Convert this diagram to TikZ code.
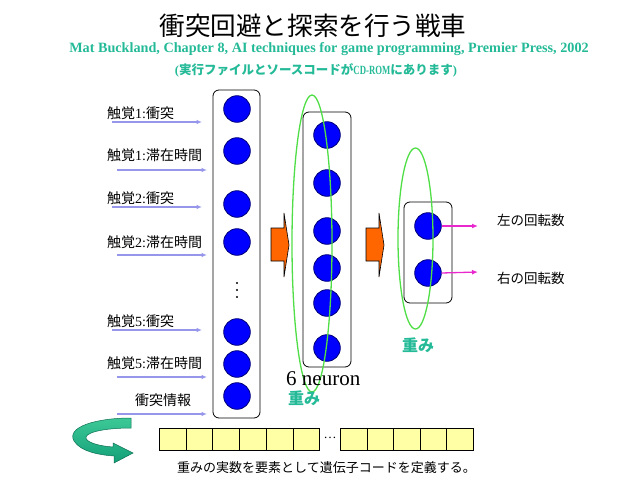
\documentclass[tikz,border=0pt]{standalone}
\usepackage{fontspec}
\setmainfont{Liberation Serif}
\newfontfamily\jp{Noto Sans CJK JP}
\usetikzlibrary{arrows.meta}
\definecolor{teal2}{RGB}{36,186,152}
\definecolor{lav}{RGB}{150,150,235}
\definecolor{mag}{RGB}{232,40,205}
\definecolor{ringgreen}{RGB}{80,222,70}
\definecolor{cellyellow}{RGB}{255,255,165}
\definecolor{orange2}{RGB}{255,102,0}
\definecolor{navy2}{RGB}{0,0,120}
\definecolor{arrowgreen}{RGB}{20,160,120}
\definecolor{arrowgreenlight}{RGB}{60,200,150}
\begin{document}
\begin{tikzpicture}[x=1pt,y=-1pt,
  neuron/.style={circle,draw=navy2,fill=blue,line width=0.8pt,minimum size=26.6pt,inner sep=0pt},
  layerbox/.style={draw=black,line width=0.8pt,rounded corners=6pt,inner sep=0pt},
  inlabel/.style={anchor=west,inner sep=0pt,font=\fontsize{14}{16}\selectfont},
  outlabel/.style={anchor=west,inner sep=0pt,font=\jp\fontsize{13.5}{16}\selectfont},
  inarrow/.style={draw=lav,line width=1.4pt,-{Latex[length=5.5pt,width=4.5pt]}},
  outarrow/.style={draw=mag,line width=1.3pt,-{Latex[length=6pt,width=5pt]}},
  wring/.style={draw=ringgreen,line width=1.3pt},
  cell/.style={draw=black,line width=0.8pt,fill=cellyellow,minimum width=26.7pt,minimum height=22pt,inner sep=0pt,anchor=north west},
  weight/.style={text=teal2,font=\jp\bfseries\fontsize{16}{18}\selectfont,inner sep=0pt,anchor=west},
  blockarrow/.style={fill=orange2,draw=black,line width=0.6pt},
  dotmark/.style={circle,fill=black,inner sep=0pt,minimum size=2.2pt}]

\useasboundingbox (0,0) rectangle (638,479);

% title
\node[inner sep=0pt,font=\jp\fontsize{25.6}{28}\selectfont] (title) at (313,26) {衝突回避と探索を行う戦車};
\node[inner sep=0pt,text=teal2,font=\bfseries\fontsize{14.2}{16}\selectfont] (sub1) at (329,49)
  {Mat Buckland, Chapter 8, AI techniques for game programming, Premier Press, 2002};
\node[inner sep=0pt,text=teal2,font=\bfseries\fontsize{12.5}{15}\selectfont] (sub2) at (316,70)
  {({\jp\bfseries 実行ファイルとソースコードが}\scalebox{0.7}[1]{CD-ROM}{\jp\bfseries にあります})};

% layer boxes
\node[layerbox,minimum width=47pt,minimum height=328pt] (inbox) at (236.5,254) {};
\node[layerbox,minimum width=48pt,minimum height=255pt] (hidbox) at (327,239.5) {};
\node[layerbox,minimum width=48pt,minimum height=101pt] (outbox) at (428,252.5) {};

% input neurons
\node[neuron] (i1) at (237,109) {};
\node[neuron] (i2) at (237,151) {};
\node[neuron] (i3) at (237,204) {};
\node[neuron] (i4) at (237,242) {};
\node[neuron] (i5) at (237,332) {};
\node[neuron] (i6) at (237,364) {};
\node[neuron] (i7) at (237,396) {};
\node[dotmark] (d1) at (237,283) {};
\node[dotmark] (d2) at (237,290) {};
\node[dotmark] (d3) at (237,297) {};

% hidden neurons
\node[neuron] (h1) at (327,135) {};
\node[neuron] (h2) at (327,183) {};
\node[neuron] (h3) at (327,231) {};
\node[neuron] (h4) at (327,268) {};
\node[neuron] (h5) at (327,303) {};
\node[neuron] (h6) at (327,348) {};

% output neurons
\node[neuron] (o1) at (428,226) {};
\node[neuron] (o2) at (428,273) {};

% input labels
\node[inlabel] (l1) at (107,113) {{\jp 触覚}1:{\jp 衝突}};
\node[inlabel] (l2) at (107,155) {{\jp 触覚}1:{\jp 滞在時間}};
\node[inlabel] (l3) at (107,198) {{\jp 触覚}2:{\jp 衝突}};
\node[inlabel] (l4) at (107,242) {{\jp 触覚}2:{\jp 滞在時間}};
\node[inlabel] (l5) at (107,321) {{\jp 触覚}5:{\jp 衝突}};
\node[inlabel] (l6) at (107,363) {{\jp 触覚}5:{\jp 滞在時間}};
\node[inlabel] (l7) at (135,400) {{\jp 衝突情報}};

% input arrows
\coordinate (a1s) at (112,122); \coordinate (a1e) at (202,122);
\coordinate (a2s) at (117,170); \coordinate (a2e) at (207,170);
\coordinate (a3s) at (112,207); \coordinate (a3e) at (202,207);
\coordinate (a4s) at (117,255); \coordinate (a4e) at (207,255);
\coordinate (a5s) at (112,330); \coordinate (a5e) at (202,330);
\coordinate (a6s) at (117,377); \coordinate (a6e) at (207,377);
\coordinate (a7s) at (117,414); \coordinate (a7e) at (207,414);
\draw[inarrow] (a1s) -- (a1e);
\draw[inarrow] (a2s) -- (a2e);
\draw[inarrow] (a3s) -- (a3e);
\draw[inarrow] (a4s) -- (a4e);
\draw[inarrow] (a5s) -- (a5e);
\draw[inarrow] (a6s) -- (a6e);
\draw[inarrow] (a7s) -- (a7e);

% orange block arrows
\draw[blockarrow] (271,228) -- (284,228) -- (284,213) -- (289,245) -- (284,277) -- (284,261) -- (271,261) -- cycle;
\draw[blockarrow] (366,228) -- (379,228) -- (379,213) -- (384,245) -- (379,277) -- (379,261) -- (366,261) -- cycle;

% weight rings
\draw[wring] (312,243.5) ellipse [x radius=20pt, y radius=148.5pt];
\draw[wring] (415.5,238.5) ellipse [x radius=17.5pt, y radius=90.5pt];

% output arrows and labels
\coordinate (m1) at (478,226);
\coordinate (m2) at (478,272);
\draw[outarrow] (o1.east) -- (m1);
\draw[outarrow] (o2.east) -- (m2);
\node[outlabel] (r1) at (497,220) {左の回転数};
\node[outlabel] (r2) at (497,278) {右の回転数};

% weight labels
\node[weight] (w1) at (402,345) {重み};
\node[weight] (w2) at (288,398) {重み};
\node[inner sep=0pt,anchor=west,font=\fontsize{21}{24}\selectfont] (neur) at (286,379) {6 neuron};

% gene cells
\node[cell] (c1) at (159,428) {};
\node[cell] (c2) at (185.7,428) {};
\node[cell] (c3) at (212.4,428) {};
\node[cell] (c4) at (239.1,428) {};
\node[cell] (c5) at (265.8,428) {};
\node[cell] (c6) at (292.5,428) {};
\node[inner sep=0pt,font=\fontsize{13}{15}\selectfont] (cdots) at (330,438) {\ldots};
\node[cell] (c7) at (340,428) {};
\node[cell] (c8) at (366.6,428) {};
\node[cell] (c9) at (393.2,428) {};
\node[cell] (c10) at (419.8,428) {};
\node[cell] (c11) at (446.4,428) {};
\node[inner sep=0pt,anchor=west,font=\jp\fontsize{13}{15}\selectfont] (gene) at (177,468) {重みの実数を要素として遺伝子コードを定義する。};

% curved green arrow
\shade[top color=arrowgreenlight,bottom color=arrowgreen,draw=arrowgreen!70!black,line width=0.5pt]
  (131,418) .. controls (96,418) and (66,427) .. (74,441)
  .. controls (81,452) and (100,455) .. (114,456)
  -- (114,463) -- (133,453) -- (113,443) -- (113,447)
  .. controls (98,446) and (85,442) .. (86,437)
  .. controls (88,431) and (110,428) .. (131,428) -- cycle;

\end{tikzpicture}
\end{document}
